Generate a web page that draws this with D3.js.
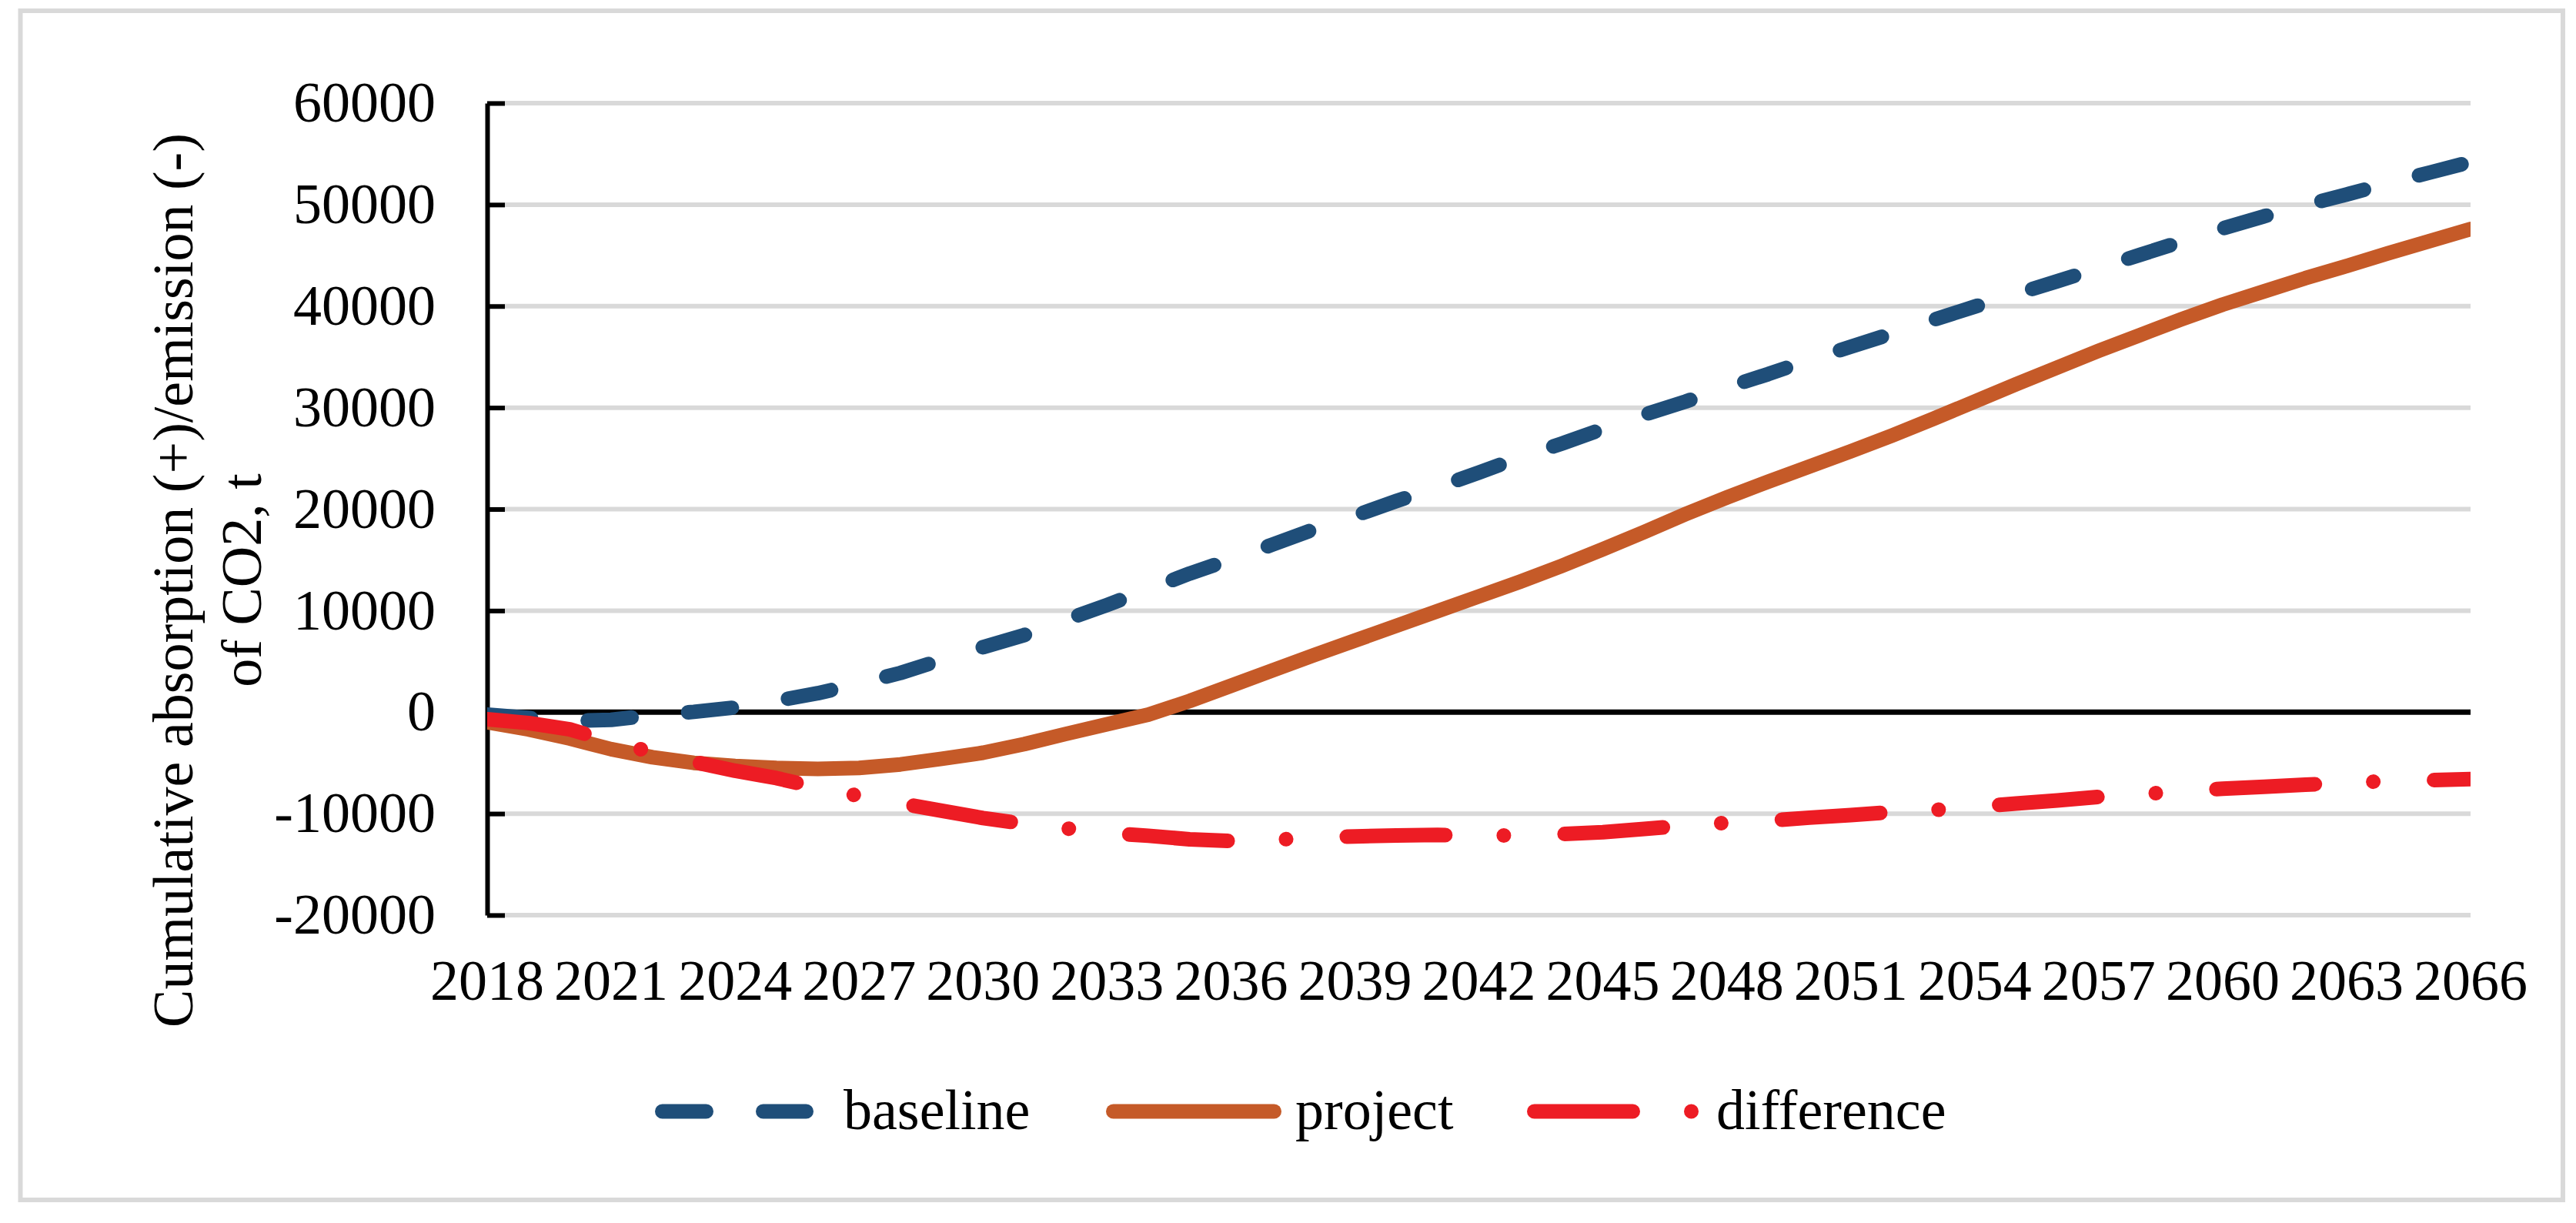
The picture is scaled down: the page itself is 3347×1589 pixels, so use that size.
<!DOCTYPE html>
<html>
<head>
<meta charset="utf-8">
<script src="https://cdn.jsdelivr.net/npm/d3@7/dist/d3.min.js"></script>
<style>
  body { margin: 0; background: #fff; }
  svg { display: block; }
</style>
</head>
<body>
<svg id="chart"></svg>
<script>
// data (t CO2, cumulative)
const years = [2018, 2019, 2020, 2021, 2022, 2023, 2024, 2025, 2026, 2027,
               2028, 2029, 2030, 2031, 2032, 2033, 2034, 2035, 2036, 2037,
               2038, 2039, 2040, 2041, 2042, 2043, 2044, 2045, 2046, 2047,
               2048, 2049, 2050, 2051, 2052, 2053, 2054, 2055, 2056, 2057,
               2058, 2059, 2060, 2061, 2062, 2063, 2064, 2065, 2066];

const baseline = [-250, -560, -870, -760, -300, 30, 460, 1120, 1860, 2820,
                  3860, 5150, 6400, 7600, 9100, 10550, 12100, 13650, 15050, 16500,
                  18000, 19350, 20800, 22150, 23600, 25100, 26450, 27900, 29300, 30600,
                  32000, 33300, 34700, 36000, 37300, 38650, 39950, 41200, 42450, 43750,
                  45050, 46350, 47650, 48850, 49950, 51000, 52100, 53150, 54200];

const project = [-1000, -1700, -2600, -3650, -4450, -5000, -5300, -5500, -5600, -5500,
                 -5150, -4600, -4000, -3150, -2150, -1200, -250, 1100, 2600, 4100,
                 5600, 7050, 8500, 9950, 11400, 12850, 14400, 16050, 17750, 19500,
                 21150, 22700, 24200, 25700, 27250, 28900, 30600, 32300, 33950, 35600,
                 37150, 38700, 40150, 41450, 42750, 43950, 45200, 46400, 47600];

const difference = [-700, -1070, -1700, -2900, -3950, -4900, -5780, -6500, -7440, -8250,
                    -8980, -9720, -10430, -11000, -11450, -11900, -12180, -12530, -12700, -12600,
                    -12350, -12250, -12150, -12100, -12150, -12150, -12020, -11830, -11500, -11180,
                    -10900, -10700, -10400, -10150, -9850, -9650, -9350, -9000, -8700, -8350,
                    -8100, -7800, -7550, -7350, -7150, -6950, -6800, -6700, -6600];

const yTicks = [60000, 50000, 40000, 30000, 20000, 10000, 0, -10000, -20000];
const xTickLabels = ["2018", "2021", "2024", "2027", "2030", "2033", "2036", "2039",
                     "2042", "2045", "2048", "2051", "2054", "2057", "2060", "2063", "2066"];
const seriesNames = ["baseline", "project", "difference"];
const yTitle = ["Cumulative absorption (+)/emission (-)", "of CO2, t"];

// layout
const w = 3347, h = 1589;
const margin = { top: 134, bottom: 400, left: 633, right: 137 };
const fontFam = '"Liberation Serif", "Times New Roman", serif';
const fs = 74;

const colors = { baseline: "#1F4E79", project: "#C55A28", difference: "#ED1C24" };
const dashes = { baseline: "57,74", project: null, difference: "128,76,0.01,79" };
const lineW = 19;

const $svg = d3.select("#chart")
  .attr("width", w)
  .attr("height", h)
  .style("background", "#fff");

// outer frame
$svg.append("rect")
  .attr("x", 26.5).attr("y", 14)
  .attr("width", 3330 - 26.5).attr("height", 1559 - 14)
  .attr("fill", "none")
  .attr("stroke", "#D9D9D9")
  .attr("stroke-width", 6);

// scales
const x = d3.scalePoint()
  .domain(years)
  .range([margin.left, w - margin.right]);

const y = d3.scaleLinear()
  .domain([-20000, 60000])
  .range([h - margin.bottom, margin.top]);

// grid
$svg.append("g")
  .selectAll("line")
  .data(yTicks.filter(d => d !== 0))
  .enter().append("line")
  .attr("x1", margin.left)
  .attr("x2", w - margin.right)
  .attr("y1", d => y(d))
  .attr("y2", d => y(d))
  .attr("stroke", "#D9D9D9")
  .attr("stroke-width", 6);

// zero line (category axis)
$svg.append("line")
  .attr("x1", margin.left)
  .attr("x2", w - margin.right)
  .attr("y1", y(0))
  .attr("y2", y(0))
  .attr("stroke", "#000")
  .attr("stroke-width", 7);

// y axis, ticks pointing inside, plain numbers with hyphen minus
const gy = $svg.append("g")
  .attr("transform", `translate(${margin.left},0)`)
  .call(d3.axisLeft(y)
    .tickValues(yTicks)
    .tickFormat(d => String(d))
    .tickSize(-23)
    .tickSizeOuter(0)
    .tickPadding(67))
  .attr("font-family", fontFam)
  .attr("font-size", fs);

gy.select(".domain").attr("stroke", "#000").attr("stroke-width", 6);
gy.selectAll(".tick line").attr("stroke", "#000").attr("stroke-width", 6);
gy.selectAll(".tick text").attr("fill", "#000");

// x labels
$svg.append("g")
  .selectAll("text")
  .data(xTickLabels)
  .enter().append("text")
  .attr("x", d => x(+d))
  .attr("y", 1299)
  .attr("text-anchor", "middle")
  .attr("font-family", fontFam)
  .attr("font-size", fs)
  .text(d => d);

// y title, two lines
$svg.append("g")
  .selectAll("text")
  .data(yTitle)
  .enter().append("text")
  .attr("transform", (d, i) => `translate(${250 + i * 89},754) rotate(-90)`)
  .attr("text-anchor", "middle")
  .attr("font-family", fontFam)
  .attr("font-size", fs)
  .text(d => d);

// series
$svg.append("defs").append("clipPath")
  .attr("id", "plotclip")
  .append("rect")
  .attr("x", margin.left)
  .attr("y", 0)
  .attr("width", w - margin.right - margin.left)
  .attr("height", h);

const series = [
  { name: "baseline", values: baseline },
  { name: "project", values: project },
  { name: "difference", values: difference }
];

const line = d3.line()
  .x((d, i) => x(years[i]))
  .y(d => y(d));

$svg.append("g")
  .attr("clip-path", "url(#plotclip)")
  .selectAll("path")
  .data(series)
  .enter().append("path")
  .attr("d", d => line(d.values))
  .attr("fill", "none")
  .attr("stroke", d => colors[d.name])
  .attr("stroke-width", lineW)
  .attr("stroke-linecap", "round")
  .attr("stroke-linejoin", "round")
  .attr("stroke-dasharray", d => dashes[d.name]);

// legend
const legendPos = [
  { name: "baseline", x0: 860.5, x1: 1047.5, tx: 1096 },
  { name: "project", x0: 1446.5, x1: 1655.5, tx: 1683 },
  { name: "difference", x0: 1993.5, x1: 2202, tx: 2230 }
];

const lg = $svg.append("g")
  .selectAll("g")
  .data(legendPos)
  .enter().append("g");

lg.append("line")
  .attr("x1", d => d.x0)
  .attr("x2", d => d.x1)
  .attr("y1", 1444)
  .attr("y2", 1444)
  .attr("stroke", d => colors[d.name])
  .attr("stroke-width", lineW)
  .attr("stroke-linecap", "round")
  .attr("stroke-dasharray", d => dashes[d.name]);

lg.append("text")
  .attr("x", d => d.tx)
  .attr("y", 1467)
  .attr("font-family", fontFam)
  .attr("font-size", fs)
  .text((d, i) => seriesNames[i]);
</script>
</body>
</html>
